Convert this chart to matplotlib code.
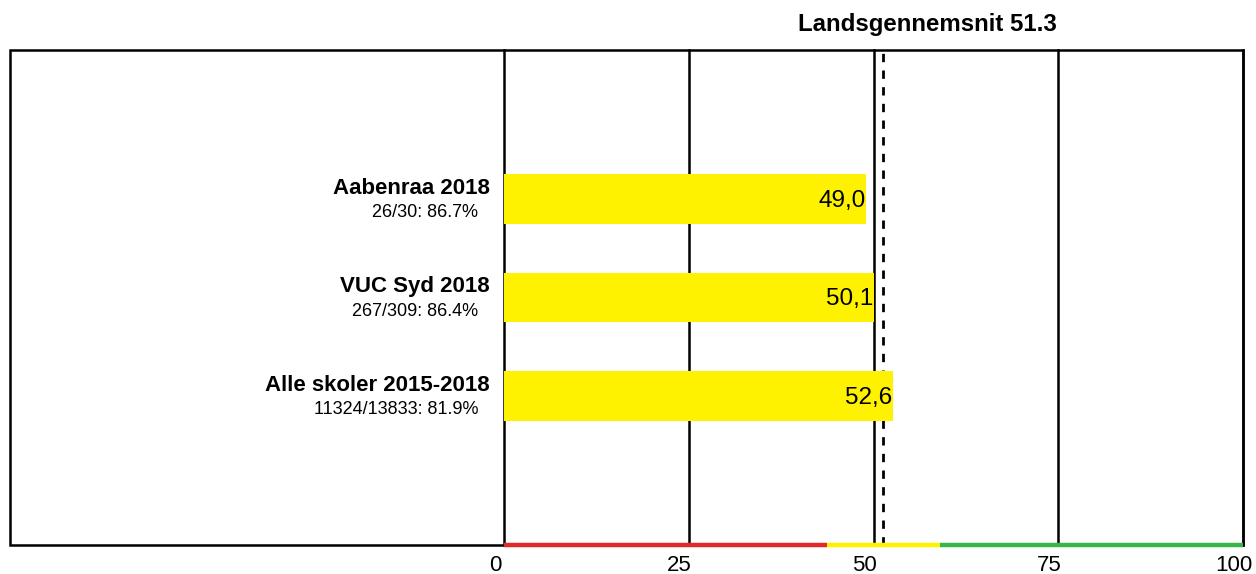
import matplotlib
matplotlib.use("Agg")
import matplotlib.pyplot as plt
from matplotlib.patches import Rectangle
import matplotlib.transforms as mtransforms

plt.rcParams['font.family'] = ['Liberation Sans', 'DejaVu Sans']

categories = ["Aabenraa 2018", "VUC Syd 2018", "Alle skoler 2015-2018"]
sublabels = ["26/30: 86.7%", "267/309: 86.4%", "11324/13833: 81.9%"]
values = [49.0, 50.1, 52.6]
value_labels = ["49,0", "50,1", "52,6"]
national_avg = 51.3
ticks = [0, 25, 50, 75, 100]
zones = [(0, 43.7, "#e02a2a"), (43.7, 59.0, "#fff200"), (59.0, 100, "#3ab54a")]

W, H = 1256, 574
fig = plt.figure(figsize=(W / 100, H / 100), dpi=100)

x0, x1 = 504, 1243
y_top, y_bot = 50, 545
ax = fig.add_axes([x0 / W, 1 - y_bot / H, (x1 - x0) / W, (y_bot - y_top) / H])
ax.set_xlim(0, 100)
ylo, yhi = 3.515, -1.515
ax.set_ylim(ylo, yhi)
ax.patch.set_visible(False)
for s in ax.spines.values():
    s.set_visible(False)
ax.set_yticks([])

# outer frame (behind the axes contents)
fig.add_artist(Rectangle((10 / W, 1 - y_bot / H), (x1 - 10) / W, (y_bot - y_top) / H,
                         transform=fig.transFigure, fill=False, edgecolor='black',
                         linewidth=1.8, zorder=-1))

# gridlines
for t in ticks:
    ax.axvline(t, color='black', linewidth=1.8, zorder=1, clip_on=False)

ax.axvline(national_avg, color='black', linewidth=2, linestyle=(0, (3, 3)), zorder=1.5)

pos = list(range(len(categories)))
ax.barh(pos, values, height=0.5, color='#fff200', zorder=2)

for p, v, lab, cat, sub in zip(pos, values, value_labels, categories, sublabels):
    ax.text(v - 0.1, p + 0.02, lab, ha='right', va='center', fontsize=17.5, zorder=4)
    ax.text(-1.9, p - 0.107, cat, ha='right', va='center', fontsize=16,
            fontweight='bold', clip_on=False)
    ax.text(-3.5, p + 0.14, sub, ha='right', va='center', fontsize=13, clip_on=False)

# colored zone line at bottom
for a, b, c in zones:
    ax.plot([a, b], [ylo, ylo], color=c, linewidth=3.2, solid_capstyle='butt',
            clip_on=False, zorder=5)

ax.set_xticks(ticks)
ax.set_xticklabels([str(t) for t in ticks], fontsize=16)
ax.tick_params(axis='x', length=0, pad=7)
offset = mtransforms.ScaledTranslation(-9 / 100, 0, fig.dpi_scale_trans)
for lbl in ax.get_xticklabels():
    lbl.set_transform(lbl.get_transform() + offset)

fig.text(927 / W, 1 - 25 / H, "Landsgennemsnit 51.3", ha='center', va='center',
         fontsize=17.3, fontweight='bold')

fig.savefig("out.png", dpi=100)
